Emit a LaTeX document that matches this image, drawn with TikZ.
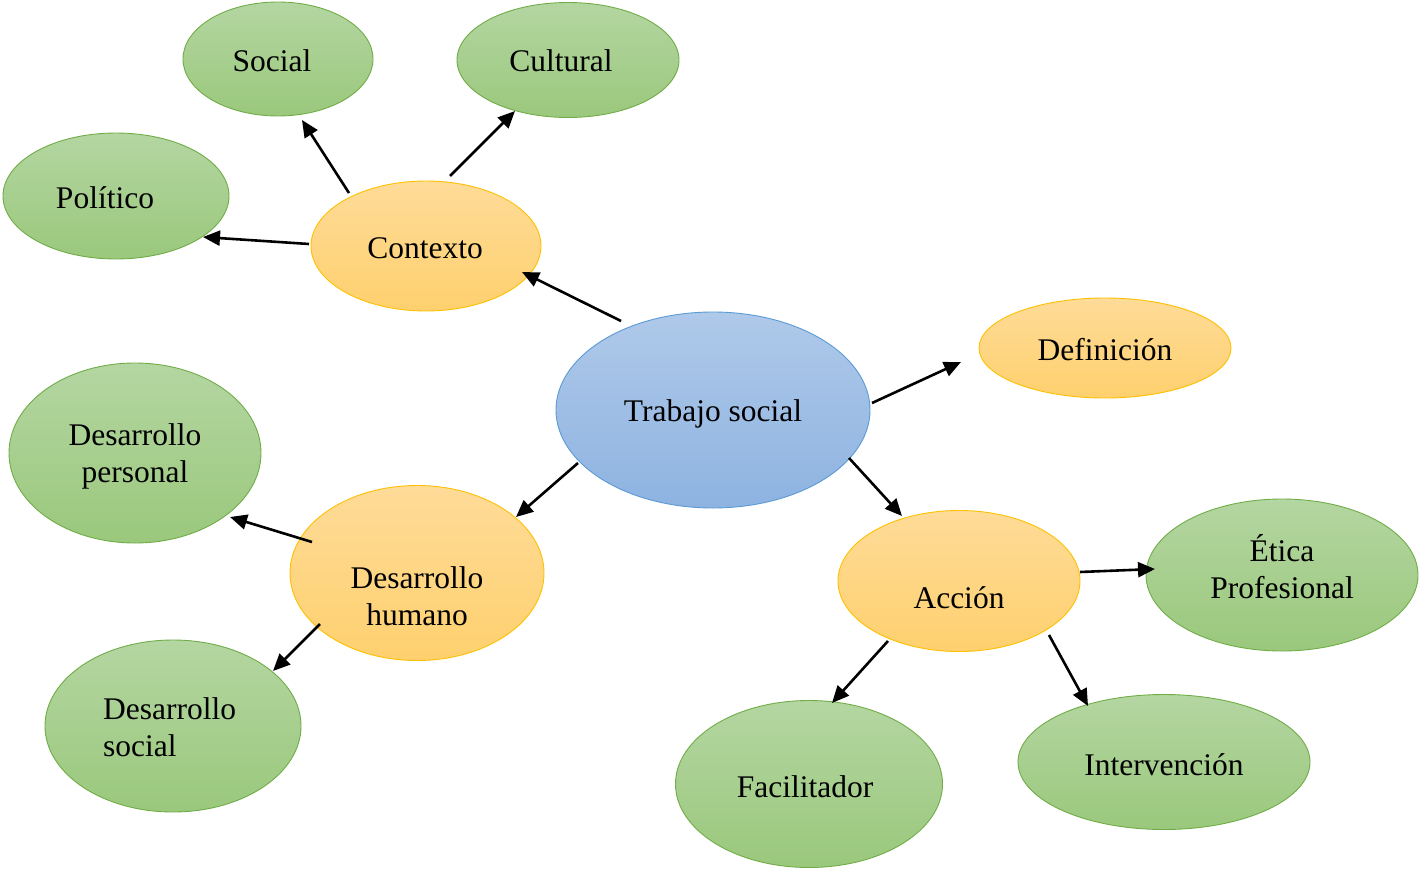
\documentclass[tikz,border=0pt]{standalone}
\usepackage{fontspec}
\setmainfont{Liberation Serif}
\usetikzlibrary{shapes.geometric,arrows.meta,calc}
\definecolor{gtop}{RGB}{180,214,162}
\definecolor{gbot}{RGB}{154,200,124}
\definecolor{gline}{RGB}{112,173,71}
\definecolor{otop}{RGB}{254,219,152}
\definecolor{obot}{RGB}{254,208,110}
\definecolor{oline}{RGB}{255,192,0}
\definecolor{btop}{RGB}{175,201,233}
\definecolor{bbot}{RGB}{142,179,225}
\definecolor{bline}{RGB}{91,155,213}
\tikzset{
  ell/.style={ellipse, inner sep=0pt, line width=0.9pt},
  green/.style={ell, draw=gline, top color=gtop, bottom color=gbot},
  orange/.style={ell, draw=oline, top color=otop, bottom color=obot},
  blue/.style={ell, draw=bline, top color=btop, bottom color=bbot},
  lbl/.style={font=\fontsize{31.5}{37}\selectfont, inner sep=0pt, align=center},
  arr/.style={line width=2.6pt, -{Triangle[length=17pt,width=15pt]}},
}
\begin{document}
\begin{tikzpicture}[x=1pt,y=-1pt]
\useasboundingbox (0,0) rectangle (1421,870);
% ellipses
\node[green, minimum width=190, minimum height=114] (soc) at (278,59) {};
\node[green, minimum width=222, minimum height=115] (cul) at (568,60) {};
\node[green, minimum width=226, minimum height=126] (pol) at (116,196) {};
\node[orange, minimum width=230, minimum height=130] (ctx) at (426,246) {};
\node[blue, minimum width=314, minimum height=196] (ts) at (713,410) {};
\node[orange, minimum width=252, minimum height=100] (def) at (1105,348) {};
\node[green, minimum width=252, minimum height=180] (dp) at (135,453) {};
\node[orange, minimum width=254, minimum height=175] (dh) at (417,573) {};
\node[green, minimum width=256, minimum height=172] (ds) at (173,726) {};
\node[orange, minimum width=242, minimum height=141] (acc) at (959,581) {};
\node[green, minimum width=272, minimum height=152] (eti) at (1282,575) {};
\node[green, minimum width=267, minimum height=167] (fac) at (809,784) {};
\node[green, minimum width=292, minimum height=135] (int) at (1164,762) {};
% labels
\node[lbl] (tsoc) at (272,61) {Social};
\node[lbl] (tcul) at (561,61) {Cultural};
\node[lbl] (tpol) at (105,198) {Político};
\node[lbl] (tctx) at (425,248) {Contexto};
\node[lbl] (tts) at (713,414) {Trabajo social};
\node[lbl] (tdp) at (135,456) {Desarrollo\\personal};
\node[lbl] (tdef) at (1105,350) {Definición};
\node[lbl] (tdh) at (417,596) {Desarrollo\\humano};
\node[lbl, align=left, anchor=west] (tds) at (103,727) {Desarrollo\\social};
\node[lbl] (tacc) at (959,598) {Acción};
\node[lbl] (teti) at (1282,567) {Ética\\Profesional};
\node[lbl] (tfac) at (805,787) {Facilitador};
\node[lbl] (tint) at (1164,765) {Intervención};
% arrows
\draw[arr] ($(ctx)+(-77,-53)$) -- ($(soc)+(24,61)$);
\draw[arr] ($(ctx)+(24,-70)$) -- ($(cul)+(-53,51)$);
\draw[arr] ($(ctx)+(-117,-2)$) -- ($(pol)+(87,41)$);
\draw[arr] ($(ts)+(-92,-89)$) -- ($(ctx)+(96,26)$);
\draw[arr] ($(ts)+(159,-7)$) -- ($(def)+(-144,14)$);
\draw[arr] ($(ts)+(-135,53)$) -- ($(dh)+(99,-56)$);
\draw[arr] ($(ts)+(136,48)$) -- ($(acc)+(-57,-65)$);
\draw[arr] ($(dh)+(-105,-31)$) -- ($(dp)+(95,64)$);
\draw[arr] ($(dh)+(-97,51)$) -- ($(ds)+(100,-55)$);
\draw[arr] ($(acc)+(121,-9)$) -- ($(eti)+(-127,-6)$);
\draw[arr] ($(acc)+(-71,60)$) -- ($(fac)+(23,-81)$);
\draw[arr] ($(acc)+(90,54)$) -- ($(int)+(-76,-56)$);
\end{tikzpicture}
\end{document}
